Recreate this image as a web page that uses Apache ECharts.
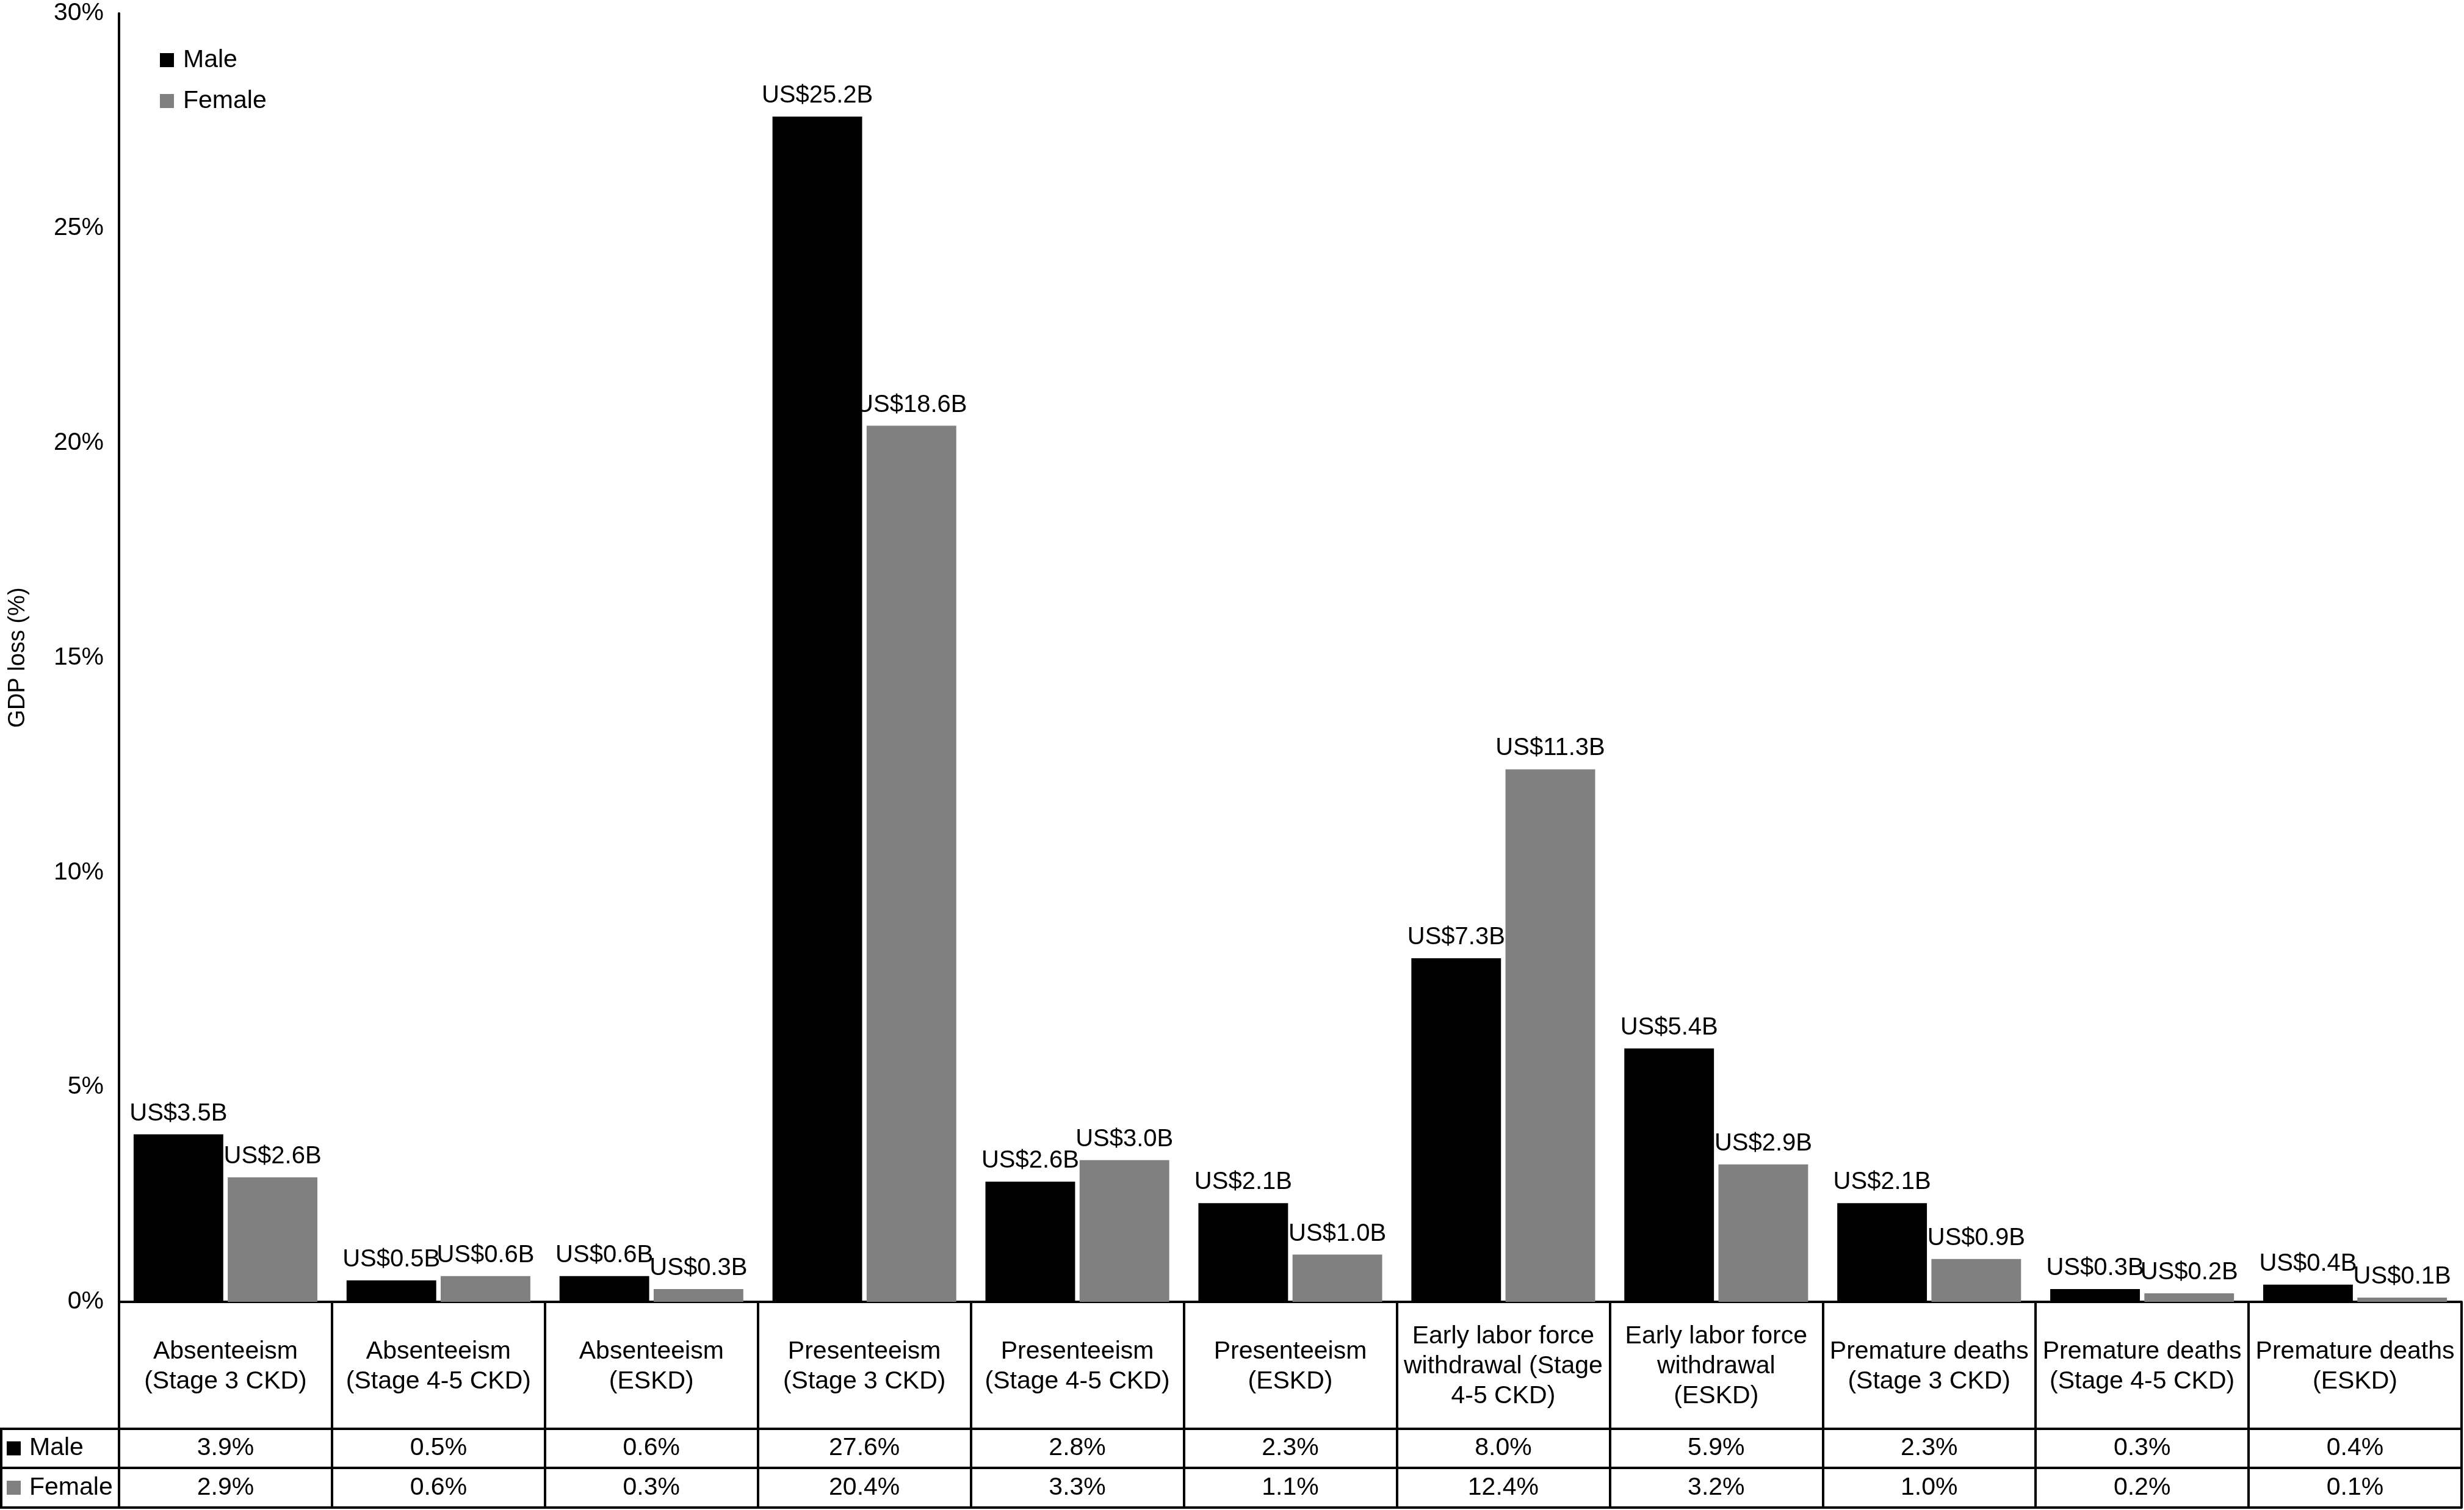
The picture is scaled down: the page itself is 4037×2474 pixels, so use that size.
<!DOCTYPE html>
<html>
<head>
<meta charset="utf-8">
<script src="https://cdn.jsdelivr.net/npm/echarts@6/dist/echarts.min.js"></script>
<style>
html,body{margin:0;padding:0;background:#fff;}
#chart{width:4037px;height:2474px;}
</style>
</head>
<body>
<div id="chart"></div>
<script>
const categories = [
  "Absenteeism\n(Stage 3 CKD)", "Absenteeism\n(Stage 4-5 CKD)", "Absenteeism\n(ESKD)",
  "Presenteeism\n(Stage 3 CKD)", "Presenteeism\n(Stage 4-5 CKD)", "Presenteeism\n(ESKD)",
  "Early labor force\nwithdrawal (Stage\n4-5 CKD)", "Early labor force\nwithdrawal\n(ESKD)",
  "Premature deaths\n(Stage 3 CKD)", "Premature deaths\n(Stage 4-5 CKD)", "Premature deaths\n(ESKD)"
];
const maleValues   = [3.9, 0.5, 0.6, 27.6, 2.8, 2.3, 8.0, 5.9, 2.3, 0.3, 0.4];
const femaleValues = [2.9, 0.6, 0.3, 20.4, 3.3, 1.1, 12.4, 3.2, 1.0, 0.2, 0.1];
const maleCosts    = ["US$3.5B","US$0.5B","US$0.6B","US$25.2B","US$2.6B","US$2.1B","US$7.3B","US$5.4B","US$2.1B","US$0.3B","US$0.4B"];
const femaleCosts  = ["US$2.6B","US$0.6B","US$0.3B","US$18.6B","US$3.0B","US$1.0B","US$11.3B","US$2.9B","US$0.9B","US$0.2B","US$0.1B"];
const seriesNames  = ["Male", "Female"];
const yTicks = {min: 0, max: 30, interval: 5};

// layout constants
const W = 4037, H = 2474;
const FONT = "'Liberation Sans', Arial, Helvetica, sans-serif";
const FS = 41;
const LABEL_FS = 40;
const gridLeft = 195, gridRight = 4, gridTop = 22, zeroY = 2133;
const rowCat = 208, rowMale = 272, rowFemale = 337; // offsets below zero line
const LW = 4;
const MALE_C = '#000000', FEMALE_C = '#808080';

const chart = echarts.init(document.getElementById('chart'), null, {renderer: 'canvas'});

const baseX = {
  type: 'category', data: categories, gridIndex: 0, position: 'bottom',
  axisTick: {show: false}, splitLine: {show: false},
  axisLine: {show: true, lineStyle: {color: '#000', width: LW}}
};

const yMale = zeroY + rowCat, yFem = zeroY + rowMale, yBot = zeroY + rowFemale;

const option = {
  backgroundColor: '#fff',
  animation: false,
  textStyle: {fontFamily: FONT},
  legend: {
    data: seriesNames, orient: 'vertical', left: 262, top: 78,
    padding: 0, itemGap: 26, itemWidth: 23, itemHeight: 23, icon: 'rect',
    textStyle: {fontSize: FS, color: '#000', fontFamily: FONT, padding: [0, 0, 0, 10]}
  },
  grid: {left: gridLeft, right: gridRight, top: gridTop, bottom: H - zeroY, containLabel: false},
  xAxis: [
    Object.assign({}, baseX, {
      offset: 0,
      axisTick: {show: true, interval: 0, length: rowFemale, lineStyle: {color: '#000', width: LW}},
      axisLabel: {interval: 0, fontSize: FS, color: '#000', fontFamily: FONT, lineHeight: 49,
        margin: rowCat / 2 + 2, verticalAlign: 'middle', align: 'center', hideOverlap: false}
    }),
    Object.assign({}, baseX, {
      offset: rowCat,
      axisLabel: {interval: 0, fontSize: FS, color: '#000', fontFamily: FONT,
        margin: (rowMale - rowCat) / 2, verticalAlign: 'middle',
        formatter: (v, i) => maleValues[i].toFixed(1) + '%'}
    }),
    Object.assign({}, baseX, {
      offset: rowMale,
      axisLabel: {interval: 0, fontSize: FS, color: '#000', fontFamily: FONT,
        margin: (rowFemale - rowMale) / 2, verticalAlign: 'middle',
        formatter: (v, i) => femaleValues[i].toFixed(1) + '%'}
    }),
    Object.assign({}, baseX, {
      offset: rowFemale,
      axisLabel: {show: false}
    })
  ],
  yAxis: {
    type: 'value', min: yTicks.min, max: yTicks.max, interval: yTicks.interval,
    name: 'GDP loss (%)', nameLocation: 'middle', nameGap: 146,
    nameTextStyle: {fontSize: 38, color: '#000', fontFamily: FONT},
    axisLine: {show: true, lineStyle: {color: '#000', width: LW}},
    axisTick: {show: false},
    splitLine: {show: false},
    axisLabel: {fontSize: FS, color: '#000', fontFamily: FONT, margin: 25, formatter: '{value}%'}
  },
  series: [
    {
      name: seriesNames[0], type: 'bar', data: maleValues, xAxisIndex: 0,
      barCategoryGap: '13.7%', barGap: '5%',
      itemStyle: {color: MALE_C},
      label: {show: true, position: 'top', distance: 14, fontSize: LABEL_FS, color: '#000', fontFamily: FONT,
        formatter: p => maleCosts[p.dataIndex]}
    },
    {
      name: seriesNames[1], type: 'bar', data: femaleValues, xAxisIndex: 0,
      barCategoryGap: '13.7%', barGap: '5%',
      itemStyle: {color: FEMALE_C},
      label: {show: true, position: 'top', distance: 14, fontSize: LABEL_FS, color: '#000', fontFamily: FONT,
        formatter: p => femaleCosts[p.dataIndex]}
    }
  ],
  graphic: [
    {type: 'rect', shape: {x: 2, y: yMale, width: gridLeft - 2, height: yBot - yMale},
      style: {fill: 'none', stroke: '#000', lineWidth: LW}, silent: true},
    {type: 'line', shape: {x1: 0, y1: yFem, x2: gridLeft, y2: yFem},
      style: {stroke: '#000', lineWidth: LW}, silent: true},
    {type: 'rect', shape: {x: 11, y: (yMale + yFem) / 2 - 11.5, width: 23, height: 23},
      style: {fill: MALE_C}, silent: true},
    {type: 'text', x: 48, y: (yMale + yFem) / 2,
      style: {text: seriesNames[0], fontSize: FS, fontFamily: FONT, fill: '#000', verticalAlign: 'middle'}, silent: true},
    {type: 'rect', shape: {x: 11, y: (yFem + yBot) / 2 - 11.5, width: 23, height: 23},
      style: {fill: FEMALE_C}, silent: true},
    {type: 'text', x: 48, y: (yFem + yBot) / 2,
      style: {text: seriesNames[1], fontSize: FS, fontFamily: FONT, fill: '#000', verticalAlign: 'middle'}, silent: true}
  ]
};
chart.setOption(option);
</script>
</body>
</html>
